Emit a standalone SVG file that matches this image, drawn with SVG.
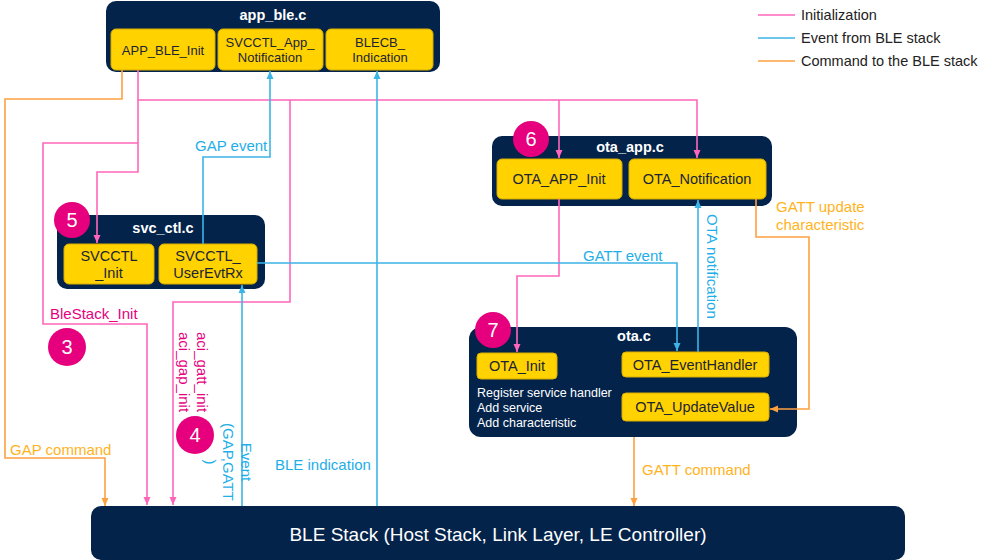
<svg xmlns="http://www.w3.org/2000/svg" width="1000" height="560" viewBox="0 0 1000 560">
<style>
text{font-family:"Liberation Sans",Arial,sans-serif}
.ctr{fill:#03234B}
.box{fill:#FFD200;stroke:#D9AE00;stroke-width:1}
.title{fill:#fff;font-weight:bold;font-size:14.5px;text-anchor:middle}
.bt{fill:#1B2433;font-size:13px;text-anchor:middle}
.bt2{fill:#1B2433;font-size:14.5px;text-anchor:middle}
.wt{fill:#fff;font-size:12.5px}
.badge{fill:#E6007E}
.bn{fill:#fff;font-size:20px;text-anchor:middle}
.lp{fill:none;stroke:#FF66BB;stroke-width:1.6}
.lb{fill:none;stroke:#3CB4E6;stroke-width:1.6}
.lo{fill:none;stroke:#FFA040;stroke-width:1.6}
.tp{fill:#E6007E;font-size:15px}
.tb{fill:#1EAEE8;font-size:15px}
.to{fill:#FFB31C;font-size:15px}
.lg{fill:#222;font-size:14.5px}
</style>
<defs>
<marker id="ap" viewBox="0 0 8 8" refX="8" refY="4" markerWidth="8" markerHeight="8" markerUnits="userSpaceOnUse" orient="auto"><path d="M0,0.5 L8,4 L0,7.5 Z" fill="#FF66BB"/></marker>
<marker id="ab" viewBox="0 0 8 8" refX="8" refY="4" markerWidth="8" markerHeight="8" markerUnits="userSpaceOnUse" orient="auto"><path d="M0,0.5 L8,4 L0,7.5 Z" fill="#3CB4E6"/></marker>
<marker id="ao" viewBox="0 0 8 8" refX="8" refY="4" markerWidth="8" markerHeight="8" markerUnits="userSpaceOnUse" orient="auto"><path d="M0,0.5 L8,4 L0,7.5 Z" fill="#FFA040"/></marker>
</defs>
<rect width="1000" height="560" fill="#fff"/>

<g id="legend">
<line x1="758" y1="15" x2="795" y2="15" class="lp"/>
<text x="801" y="20" class="lg">Initialization</text>
<line x1="758" y1="38" x2="795" y2="38" class="lb"/>
<text x="801" y="43" class="lg">Event from BLE stack</text>
<line x1="758" y1="61" x2="795" y2="61" class="lo"/>
<text x="801" y="66" class="lg">Command to the BLE stack</text>
</g>

<g id="app_ble">
<rect class="ctr" x="106" y="1" width="334" height="71" rx="10"/>
<text x="273" y="20" class="title">app_ble.c</text>
<rect class="box" x="111" y="29" width="104" height="41" rx="5"/>
<text x="163" y="55" class="bt">APP_BLE_Init</text>
<rect class="box" x="218" y="29" width="105" height="41" rx="5"/>
<text x="270" y="47" class="bt">SVCCTL_App_</text>
<text x="270" y="62" class="bt">Notification</text>
<rect class="box" x="326" y="29" width="107" height="41" rx="5"/>
<text x="380" y="47" class="bt">BLECB_</text>
<text x="380" y="62" class="bt">Indication</text>
</g>

<g id="svc_ctl">
<rect class="ctr" x="57" y="215" width="208" height="74" rx="10"/>
<text x="163" y="233" class="title">svc_ctl.c</text>
<rect class="box" x="64" y="244" width="90" height="40" rx="5"/>
<text x="109" y="261" class="bt2">SVCCTL</text>
<text x="109" y="278" class="bt2">_Init</text>
<rect class="box" x="159" y="244" width="98" height="40" rx="5"/>
<text x="208" y="261" class="bt2">SVCCTL_</text>
<text x="208" y="278" class="bt2">UserEvtRx</text>
</g>

<g id="ota_app">
<rect class="ctr" x="492" y="136" width="280" height="70" rx="10"/>
<text x="630" y="152" class="title">ota_app.c</text>
<rect class="box" x="497" y="159" width="125" height="40" rx="5"/>
<text x="559" y="184" class="bt2">OTA_APP_Init</text>
<rect class="box" x="629" y="159" width="137" height="40" rx="5"/>
<text x="697" y="184" class="bt2">OTA_Notification</text>
</g>

<g id="ota">
<rect class="ctr" x="469" y="327" width="328" height="110" rx="12"/>
<text x="634" y="341" class="title">ota.c</text>
<rect class="box" x="477" y="353" width="80" height="26" rx="4"/>
<text x="517" y="371" class="bt2">OTA_Init</text>
<rect class="box" x="622" y="352" width="147" height="25" rx="4"/>
<text x="695" y="370" class="bt2">OTA_EventHandler</text>
<rect class="box" x="622" y="393" width="147" height="28" rx="4"/>
<text x="695" y="412" class="bt2">OTA_UpdateValue</text>
<text x="477" y="397" class="wt">Register service handler</text>
<text x="477" y="412" class="wt">Add service</text>
<text x="477" y="427" class="wt">Add characteristic</text>
</g>

<g id="ble_stack">
<rect class="ctr" x="91" y="506" width="814" height="54" rx="10"/>
<text x="498" y="541" fill="#fff" font-size="19" text-anchor="middle">BLE Stack (Host Stack, Link Layer, LE Controller)</text>
</g>

<g id="connectors">
<!-- pink init -->
<path class="lp" d="M138,70 V100 H697 V158" marker-end="url(#ap)"/>
<path class="lp" d="M559,100 V158" marker-end="url(#ap)"/>
<path class="lp" d="M138,100 V172 H97 V243" marker-end="url(#ap)"/>
<path class="lp" d="M138,143 H43 V324 H147 V505" marker-end="url(#ap)"/>
<path class="lp" d="M290,100 V302 H173 V505" marker-end="url(#ap)"/>
<path class="lp" d="M559,199 V276 H517 V352" marker-end="url(#ap)"/>
<!-- blue events -->
<path class="lb" d="M203,244 V157 H270 V71" marker-end="url(#ab)"/>
<path class="lb" d="M377,506 V71" marker-end="url(#ab)"/>
<path class="lb" d="M242,506 V285" marker-end="url(#ab)"/>
<path class="lb" d="M257,263 H677 V351" marker-end="url(#ab)"/>
<path class="lb" d="M698,352 V200" marker-end="url(#ab)"/>
<!-- orange commands -->
<path class="lo" d="M122,70 V99 H5 V458 H105 V506" marker-end="url(#ao)"/>
<path class="lo" d="M756,199 V237 H809 V409 H770" marker-end="url(#ao)"/>
<path class="lo" d="M634,437 V506" marker-end="url(#ao)"/>
<!-- labels -->
<text x="195" y="151" class="tb">GAP event</text>
<text x="50" y="319" class="tp">BleStack_Init</text>
<text class="tp" transform="rotate(90)"><tspan x="332" y="-197">aci_gatt_init</tspan><tspan x="332" y="-179">aci_gap_init</tspan></text>
<text class="tb" transform="rotate(90)" text-anchor="middle"><tspan x="462" y="-241">Event</tspan><tspan x="462" y="-223">(GAP,GATT</tspan><tspan x="462" y="-205">)</tspan></text>
<text x="10" y="455" class="to">GAP command</text>
<text x="275" y="470" class="tb">BLE indication</text>
<text x="583" y="261" class="tb">GATT event</text>
<text class="tb" transform="rotate(90)" x="214" y="-707">OTA notification</text>
<text x="776" y="212" class="to">GATT update</text>
<text x="776" y="230" class="to">characteristic</text>
<text x="642" y="475" class="to">GATT command</text>
</g>

<g id="badges">
<circle class="badge" cx="67" cy="347" r="19"/><text x="67" y="354" class="bn">3</text>
<circle class="badge" cx="195" cy="435" r="19"/><text x="195" y="442" class="bn">4</text>
<circle class="badge" cx="72" cy="220" r="18"/><text x="72" y="227" class="bn">5</text>
<circle class="badge" cx="531" cy="139" r="18"/><text x="531" y="146" class="bn">6</text>
<circle class="badge" cx="493" cy="330" r="18"/><text x="493" y="337" class="bn">7</text>
</g>
</svg>
